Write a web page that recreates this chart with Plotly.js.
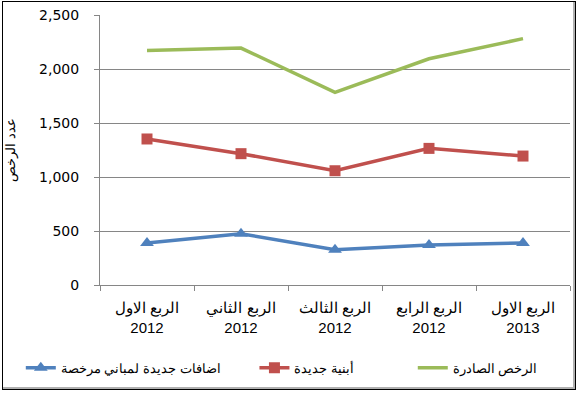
<!DOCTYPE html>
<html>
<head>
<meta charset="utf-8">
<script src="https://cdn.plot.ly/plotly-3.0.1.min.js"></script>
<style>
html,body{margin:0;padding:0;background:#fff;}
#wrap{position:relative;width:578px;height:393px;}
#frame{position:absolute;left:2px;top:1px;width:572px;height:387px;border:1px solid #000;box-shadow:inset -2px -2px 0 #b0b0b0;pointer-events:none;}
</style>
</head>
<body>
<div id="wrap"><div id="chart" style="width:578px;height:393px;"></div><div id="frame"></div></div>
<script>
const categories = ["الربع الاول<br>2012", "الربع الثاني<br>2012", "الربع الثالث<br>2012", "الربع الرابع<br>2012", "الربع الاول<br>2013"];
const seriesNames = ["اضافات جديدة لمباني مرخصة", "أبنية جديدة", "الرخص الصادرة"];
const additions = [389, 475, 327, 370, 390];
const newBuildings = [1352, 1216, 1058, 1265, 1194];
const permits = [2172, 2194, 1783, 2095, 2281];
const yTitle = "عدد الرخص";

const traces = [
  {x: categories, y: additions, name: seriesNames[0], type: "scatter", mode: "lines+markers",
   line: {color: "#4F81BD", width: 3.5}, marker: {symbol: "triangle-up", size: 12, color: "#4F81BD"}, legend: "legend"},
  {x: categories, y: newBuildings, name: seriesNames[1], type: "scatter", mode: "lines+markers",
   line: {color: "#C0504D", width: 3.5}, marker: {symbol: "square", size: 11, color: "#C0504D"}, legend: "legend2"},
  {x: categories, y: permits, name: seriesNames[2], type: "scatter", mode: "lines",
   line: {color: "#9BBB59", width: 3.5}, legend: "legend3"}
];

const legBase = {orientation: "h", yanchor: "middle", y: -0.307, xanchor: "left",
  font: {family: "Liberation Sans, Arial", size: 13, color: "#000"}, bgcolor: "rgba(0,0,0,0)"};

const layout = {
  width: 578, height: 393,
  margin: {l: 100, r: 8, t: 15, b: 108},
  paper_bgcolor: "#fff", plot_bgcolor: "#fff",
  showlegend: true,
  xaxis: {type: "category", range: [-0.5, 4.5], showgrid: false, showline: true, linecolor: "#868686", linewidth: 1,
    ticks: "outside", tickson: "boundaries", ticklen: 5, tickcolor: "#868686",
    tickfont: {family: "Liberation Sans, Arial", size: 15, color: "#000"}, ticklabelstandoff: 9, fixedrange: true},
  yaxis: {range: [0, 2500], dtick: 500, tickformat: ",d", showgrid: true, gridcolor: "#868686", gridwidth: 1,
    showline: true, linecolor: "#868686", linewidth: 1, ticks: "outside", ticklen: 5, tickcolor: "#868686",
    tickfont: {family: "DejaVu Sans", size: 14, color: "#000"}, ticklabelstandoff: 12, zeroline: false,
    title: {text: yTitle, font: {family: "Liberation Sans, Arial", size: 13, color: "#000"}, standoff: 20}},
  legend: Object.assign({}, legBase, {x: -0.1685}),
  legend2: Object.assign({}, legBase, {x: 0.3286}),
  legend3: Object.assign({}, legBase, {x: 0.6655})
};

Plotly.newPlot("chart", traces, layout, {displayModeBar: false, staticPlot: true});
</script>
</body>
</html>
